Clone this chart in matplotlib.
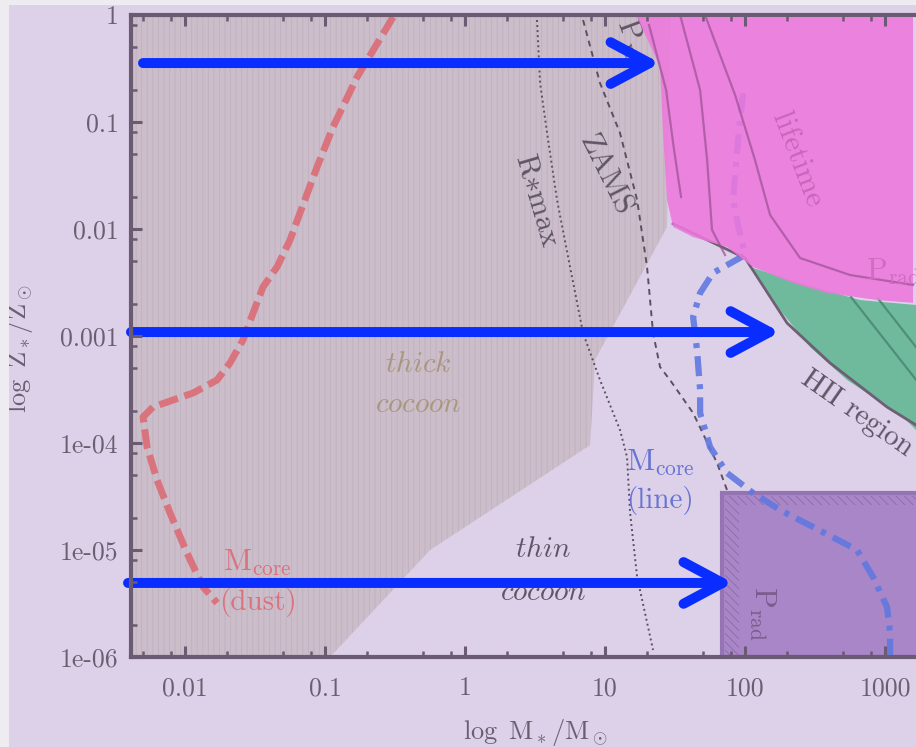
import matplotlib
matplotlib.use("Agg")
import matplotlib.pyplot as plt
import numpy as np
from matplotlib.patches import Polygon, Rectangle
from matplotlib.ticker import FixedLocator, LogLocator, NullFormatter

plt.rcParams["mathtext.fontset"] = "cm"
plt.rcParams["font.family"] = ["cmr10", "Liberation Serif", "DejaVu Serif"]
plt.rcParams["axes.unicode_minus"] = False
plt.rcParams["hatch.linewidth"] = 0.6

# ---- data (log10 M*/Msun, log10 Z*/Zsun) ----
THICK_LOGM = [-2.386, 1.464, 1.443, 0.929, 0.893, -0.25, -0.964, -2.386]
THICK_LOGZ = [0.0, 0.0, -1.98, -3.22, -4.02, -5.0, -6.0, -6.0]

DUST_LOGM = [-0.514, -0.771, -0.943, -1.057, -1.179, -1.25, -1.343, -1.443, -1.514,
             -1.586, -1.679, -1.771, -1.943, -2.229, -2.3, -2.271, -2.2, -2.107,
             -1.986, -1.871, -1.771]
DUST_LOGZ = [-0.019, -0.579, -1.047, -1.421, -1.85, -2.103, -2.355, -2.542, -2.785,
             -3.037, -3.252, -3.411, -3.533, -3.664, -3.757, -4.037, -4.346, -4.654,
             -5.028, -5.346, -5.495]

LINE_LOGM = [1.986, 1.95, 1.914, 1.95, 2.0, 1.771, 1.679, 1.629, 1.657, 1.679, 1.679,
             1.75, 1.871, 2.057, 2.25, 2.486, 2.8, 2.914, 3.014, 3.036, 3.036]
LINE_LOGZ = [-0.729, -1.168, -1.729, -1.963, -2.243, -2.411, -2.598, -2.822, -3.131,
             -3.505, -3.72, -4.037, -4.28, -4.467, -4.626, -4.785, -5.0, -5.252,
             -5.533, -5.776, -6.0]

RMAX_LOGM = [0.514, 0.536, 0.586, 0.657, 0.75, 0.843, 0.964, 1.107, 1.157, 1.179, 1.229, 1.343]
RMAX_LOGZ = [-0.047, -0.636, -1.103, -1.729, -2.355, -2.972, -3.411, -3.879, -4.131,
             -4.654, -5.252, -5.935]

ZAMS_LOGM = [0.843, 0.964, 1.107, 1.229, 1.3, 1.343, 1.393, 1.464, 1.629, 1.8, 1.871]
ZAMS_LOGZ = [-0.047, -0.636, -1.103, -1.729, -2.355, -2.972, -3.29, -3.411, -3.72,
             -4.187, -4.439]

PINK_LOGM = [1.229, 1.393, 1.414, 1.443, 1.486, 1.629, 1.871, 2.057, 2.343, 2.586,
             2.943, 3.2, 3.2]
PINK_LOGZ = [-0.02, -0.486, -1.103, -1.729, -1.981, -2.075, -2.168, -2.355, -2.505,
             -2.598, -2.664, -2.69, -0.02]

LIFE_LINES = [
    ([1.314, 1.436, 1.493, 1.543], [-0.093, -0.701, -1.262, -1.701]),
    ([1.536, 1.679, 1.729, 1.764, 1.857], [-0.0, -0.701, -1.355, -2.009, -2.243]),
    ([1.714, 1.929, 2.071, 2.179, 2.393, 2.75, 3.2], [0.0, -0.748, -1.355, -1.869, -2.271,
                                                      -2.43, -2.523]),
]

GREEN_LOGM = [2.057, 2.393, 2.821, 3.221, 3.221, 3.129, 2.729, 2.464, 2.25]
GREEN_LOGZ = [-2.364, -2.505, -2.664, -2.71, -3.879, -3.757, -3.411, -3.103, -2.757]
GREEN_LINES = [
    ([2.757, 3.279], [-2.636, -3.505]),
    ([2.95, 3.279], [-2.65, -3.2]),
]

HII_LOGM = [1.486, 2.0, 2.3, 2.607, 3.014, 3.221]
HII_LOGZ = [-1.95, -2.271, -2.879, -3.252, -3.664, -3.832]

PRAD_BOX_LOGM = 1.836   # left edge of the P_rad box
PRAD_BOX_LOGZ = -4.467  # top edge of the P_rad box

# arrows: (logM start, logM tip, logZ)
ARROWS = [(-2.3, 1.393, -0.449), (-2.386, 2.25, -2.963), (-2.407, 1.914, -5.308)]

X_TICKS = [0.01, 0.1, 1, 10, 100, 1000]
X_TICKLABELS = ["0.01", "0.1", "1", "10", "100", "1000"]
Y_TICKS = [1, 0.1, 0.01, 0.001, 1e-4, 1e-5, 1e-6]
Y_TICKLABELS = ["1", "0.1", "0.01", "0.001", "1e-04", "1e-05", "1e-06"]

# labels: (text, logM, logZ, rotation, color, size, zorder)
GRAY = "#5f5566"
LABELS = [
    (r"$\mathit{thick}$", -0.336, -3.271, 0, "#a8977f", 21, 3.5),
    (r"$\mathit{cocoon}$", -0.336, -3.645, 0, "#a8977f", 21, 3.5),
    (r"$\mathit{thin}$", 0.557, -5.0, 0, GRAY, 21, 3.5),
    (r"$\mathit{cocoon}$", 0.557, -5.402, 0, GRAY, 21, 3.5),
    (r"$\mathrm{R}{\ast}\mathrm{max}$", 0.514, -1.729, -73.6, GRAY, 22, 3.5),
    ("ZAMS", 1.0, -1.495, -63.4, GRAY, 22, 3.5),
    (r"$\mathrm{P}_{\mathrm{rad}}$", 1.2, -0.28, -70, GRAY, 22, 3.5),
    ("lifetime", 2.371, -1.355, -69, "#c865b9", 22, 6),
    (r"$\mathrm{P}_{\mathrm{rad}}$", 3.057, -2.402, 0, "#cf6cc0", 22, 6),
    ("HII region", 2.8, -3.72, -35, GRAY, 21, 3.5),
    (r"$\mathrm{M}_{\mathrm{core}}$", 1.393, -4.187, 0, "#6675d2", 22, 3.5),
    ("(line)", 1.393, -4.533, 0, "#6675d2", 21, 3.5),
    (r"$\mathrm{M}_{\mathrm{core}}$", -1.486, -5.121, 0, "#d9737d", 22, 3.5),
    ("(dust)", -1.479, -5.495, 0, "#d9737d", 21, 3.5),
    (r"$\mathrm{P}_{\mathrm{rad}}$", 2.121, -5.589, -90, "#7c5c8e", 22, 3.5),
]


def lin(v):
    return 10.0 ** np.asarray(v, dtype=float)


BG = "#ddd1ea"
fig = plt.figure(figsize=(9.16, 7.47), dpi=100, facecolor=BG)
fig.patches.append(Rectangle((0, 0), 0.0098, 1, transform=fig.transFigure,
                             facecolor="#eeebf1", edgecolor="none"))
fig.patches.append(Rectangle((0, 0.993), 1, 0.007, transform=fig.transFigure,
                             facecolor="#eeebf1", edgecolor="none"))
ax = fig.add_axes([0.143, 0.1205, 0.857, 0.8594])
ax.set_facecolor(BG)
ax.set_xscale("log")
ax.set_yscale("log")
ax.set_xlim(10 ** -2.386, 10 ** 3.221)
ax.set_ylim(1e-6, 1)

# thick cocoon
thick = Polygon(np.column_stack([lin(THICK_LOGM), lin(THICK_LOGZ)]), closed=True,
                facecolor="#ccbdca", edgecolor="#c1b1bf", hatch="|||", lw=0, zorder=1)
ax.add_patch(thick)

# P_rad box (bottom right)
x0 = lin(PRAD_BOX_LOGM)
y0 = lin(PRAD_BOX_LOGZ)
ax.add_patch(Rectangle((x0, 1e-6), 1e4, y0 - 1e-6, facecolor="#a986c7",
                       edgecolor="#9574b4", lw=3, zorder=2.5))
band = Polygon([(x0 * 1.05, 1e-6), (x0 * 1.05, y0 * 0.93), (1e4, y0 * 0.93),
                (1e4, y0 * 0.78), (x0 * 1.32, y0 * 0.78), (x0 * 1.32, 1e-6)],
               closed=True, facecolor="none", edgecolor="#8d6ba9", hatch="\\\\\\\\",
               lw=0, zorder=2.6)
ax.add_patch(band)

# reference curves
ax.plot(lin(RMAX_LOGM), lin(RMAX_LOGZ), ls=(0, (1, 1.6)), lw=1.4, color="#5b5060", zorder=2)
ax.plot(lin(ZAMS_LOGM), lin(ZAMS_LOGZ), ls=(0, (3, 2.5)), lw=1.4, color="#5b5060", zorder=2)

ax.plot(lin(DUST_LOGM), lin(DUST_LOGZ), color="#d9737d", lw=5, dashes=(2.8, 1.0),
        zorder=3)
ax.plot(lin(LINE_LOGM), lin(LINE_LOGZ), color="#6078e0", lw=4.5,
        dashes=(3.2, 1.3, 0.8, 1.3), alpha=0.9, zorder=3)

# green region and HII boundary
ax.add_patch(Polygon(np.column_stack([lin(GREEN_LOGM), lin(GREEN_LOGZ)]), closed=True,
                     facecolor="#6fba9c", edgecolor="none", zorder=4))
for lm, lz in GREEN_LINES:
    ax.plot(lin(lm), lin(lz), color="#4f8f78", lw=1.6, zorder=4.1)
ax.plot(lin(HII_LOGM), lin(HII_LOGZ), color="#6d6072", lw=2, zorder=4.2)

for text, lm, lz, rot, col, size, z in LABELS:
    ax.text(lin(lm), lin(lz), text, rotation=rot, color=col, fontsize=size,
            ha="center", va="center", rotation_mode="anchor", zorder=z)

# arrows
for lm0, lm1, lz in ARROWS:
    ax.annotate("", xy=(lin(lm1), lin(lz)), xytext=(lin(lm0), lin(lz)),
                annotation_clip=False, zorder=4.5,
                arrowprops=dict(arrowstyle="->, head_length=28, head_width=15",
                                mutation_scale=1, lw=7.2, color="#0a2dff",
                                shrinkA=0, shrinkB=0, capstyle="round",
                                joinstyle="round"))

# pink region
ax.add_patch(Polygon(np.column_stack([lin(PINK_LOGM), lin(PINK_LOGZ)]), closed=True,
                     facecolor="#ee78dd", edgecolor="none", alpha=0.88, zorder=5))
for lm, lz in LIFE_LINES:
    ax.plot(lin(lm), lin(lz), color="#9a4f93", lw=1.6, alpha=0.7, zorder=5.1)

# axes styling
SPINE = "#6a5a72"
for side in ("left", "bottom", "top"):
    ax.spines[side].set_color(SPINE)
    ax.spines[side].set_linewidth(3)
    ax.spines[side].set_zorder(6)
ax.spines["right"].set_visible(False)
ax.xaxis.set_zorder(6)
ax.yaxis.set_zorder(6)

ax.xaxis.set_major_locator(FixedLocator(X_TICKS))
ax.set_xticklabels(X_TICKLABELS)
ax.yaxis.set_major_locator(FixedLocator(Y_TICKS))
ax.set_yticklabels(Y_TICKLABELS)
ax.xaxis.set_minor_locator(LogLocator(base=10, subs=(2, 5, 8)))
ax.yaxis.set_minor_locator(LogLocator(base=10, subs=(2, 5, 8)))
ax.xaxis.set_minor_formatter(NullFormatter())
ax.yaxis.set_minor_formatter(NullFormatter())
ax.tick_params(which="both", direction="in", top=True, right=False, color=SPINE,
               labelcolor="#6a5f70", labelsize=18.5)
ax.tick_params(which="major", length=8, width=2.2)
ax.tick_params(which="minor", length=4, width=1.8)
ax.tick_params(axis="x", pad=14)
ax.tick_params(axis="y", pad=9)

ax.set_xlabel(r"$\log\ \mathrm{M}_*/\mathrm{M}_\odot$", fontsize=19, color="#6a5f70",
              va="center")
ax.set_ylabel(r"$\log\ \mathrm{Z}_*/\mathrm{Z}_\odot$", fontsize=19, color="#6a5f70",
              va="center")
ax.xaxis.set_label_coords(0.515, -0.117)
ax.yaxis.set_label_coords(-0.1414, 0.481)

fig.savefig("out.png", dpi=100, facecolor=BG)
